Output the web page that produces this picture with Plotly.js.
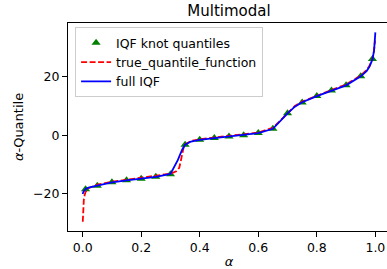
<!DOCTYPE html>
<html><head><meta charset="utf-8">
<script src="https://cdn.plot.ly/plotly-3.0.1.min.js"></script>
<style>html,body{margin:0;padding:0;overflow:hidden;background:#fff}#chart{width:390px;height:269px}</style>
</head><body><div id="chart"></div><script>
// IQF knot quantiles
const knotAlpha = [0.01,0.05,0.10,0.15,0.20,0.25,0.30,0.35,0.40,0.45,0.50,0.55,0.60,0.65,0.70,0.75,0.80,0.85,0.90,0.95,0.99];
const knotValue = [-18.6,-17.4,-16.2,-15.5,-15.0,-14.3,-13.4,-3.3,-1.6,-1.0,-0.5,0.0,0.7,2.2,7.5,11.2,13.4,15.3,17.1,20.2,26.1];

// true quantile function
const trueAlpha = [0.0005,0.001,0.002,0.004,0.007,0.01,0.02,0.05,0.10,0.15,0.20,0.25,0.30,0.32,0.33,0.335,0.34,0.345,0.35,0.37,0.40,0.45,0.50,0.55,0.60,0.65,0.66,0.68,0.70,0.725,0.75,0.80,0.85,0.90,0.95,0.97,0.98,0.99,0.995,0.999];
const trueValue = [-29.7,-27.0,-24.5,-22.2,-20.5,-19.5,-18.2,-17.0,-16.0,-15.3,-14.7,-14.1,-13.2,-12.4,-11.2,-9.0,-6.0,-4.2,-3.2,-2.0,-1.4,-0.8,-0.3,0.2,0.9,2.5,3.5,5.8,7.8,10.0,11.5,13.6,15.5,17.4,20.5,22.3,23.8,26.3,28.8,32.5];

// full IQF
const iqfAlpha = [0,0.003,0.01,0.02,0.05,0.10,0.15,0.20,0.25,0.30,0.325,0.34,0.35,0.37,0.40,0.45,0.50,0.55,0.60,0.65,0.675,0.70,0.725,0.75,0.80,0.85,0.90,0.95,0.97,0.98,0.99,0.9955,0.999,1.0];
const iqfValue = [-20.2,-19.4,-18.5,-18.0,-17.3,-16.2,-15.5,-15.0,-14.3,-13.3,-8.6,-5.0,-3.3,-2.2,-1.6,-1.0,-0.5,0.0,0.7,2.2,5.0,7.5,9.8,11.3,13.4,15.3,17.1,20.2,22.0,23.5,26.0,29.0,32.5,35.3];

const xTicks = [0,0.2,0.4,0.6,0.8,1.0];
const xTickText = ['0.0','0.2','0.4','0.6','0.8','1.0'];
const yTicks = [-20,0,20];
const yTickText = ['\u221220','0','20'];

const traces = [
  {x: knotAlpha, y: knotValue, mode:'markers', type:'scatter', name:'IQF knot quantiles',
   marker:{symbol:'triangle-up', size:8, color:'green'}},
  {x: trueAlpha, y: trueValue, mode:'lines', type:'scatter', name:'true_quantile_function',
   line:{color:'red', width:1.8, dash:'6px,2.5px'}},
  {x: iqfAlpha, y: iqfValue, mode:'lines', type:'scatter', name:'full IQF',
   line:{color:'blue', width:1.8}}
];

const font = {family:'DejaVu Sans, sans-serif', color:'#000'};
const layout = {
  width:390, height:269,
  margin:{l:68, r:0, t:23, b:38, pad:0},
  paper_bgcolor:'#fff', plot_bgcolor:'#fff',
  font: Object.assign({}, font, {size:12.5}),
  title:{text:'Multimodal', font:Object.assign({}, font, {size:15}), x:0.5, xref:'paper', y:0.961, yref:'container', yanchor:'middle'},
  showlegend:true,
  legend:{x:0.022, y:0.98, xanchor:'left', yanchor:'top', bgcolor:'rgba(255,255,255,0.8)', bordercolor:'#cccccc', borderwidth:1,
          font:Object.assign({}, font, {size:12.5})},
  xaxis:{range:[-0.05,1.05], tickvals:xTicks, ticktext:xTickText, ticks:'outside', ticklen:5, tickwidth:1, tickcolor:'#000',
         showline:true, linecolor:'#000', linewidth:1, mirror:true, showgrid:false, zeroline:false, automargin:false,
         tickfont:Object.assign({}, font, {size:12.5}),
         title:{text:'<i>α</i>', font:Object.assign({}, font, {size:13}), standoff:4}},
  yaxis:{range:[-32.9,38.5], tickvals:yTicks, ticktext:yTickText, ticks:'outside', ticklen:5, tickwidth:1, tickcolor:'#000',
         showline:true, linecolor:'#000', linewidth:1, mirror:true, showgrid:false, zeroline:false, automargin:false,
         tickfont:Object.assign({}, font, {size:12.5}),
         title:{text:'<i>α</i>-Quantile', font:Object.assign({}, font, {size:13}), standoff:6}}
};
Plotly.newPlot('chart', traces, layout, {displayModeBar:false, staticPlot:true});
</script></body></html>
